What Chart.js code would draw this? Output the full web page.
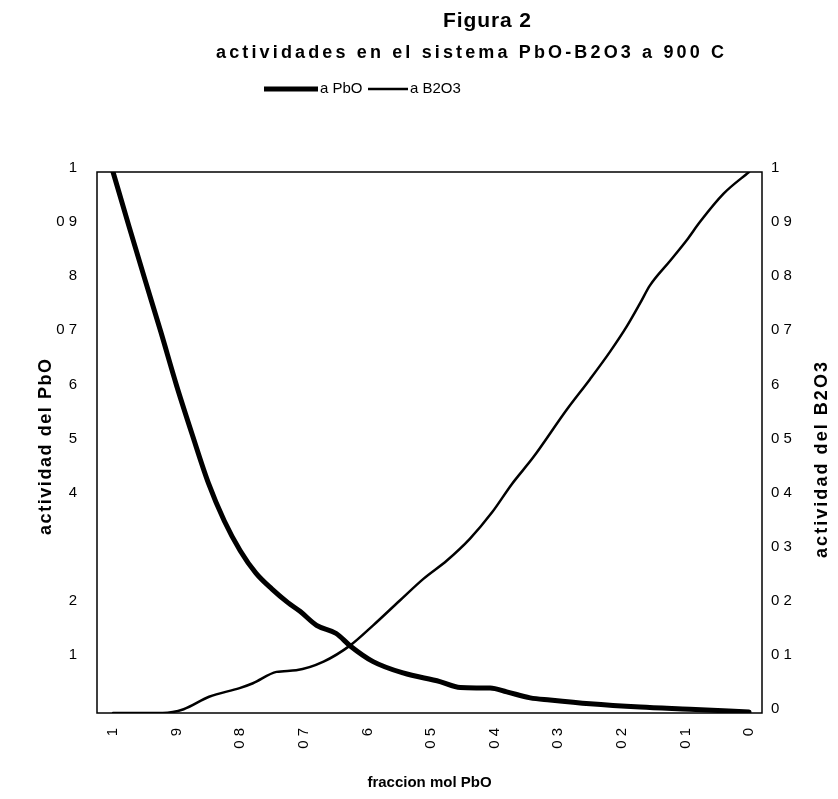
<!DOCTYPE html>
<html>
<head>
<meta charset="utf-8">
<script src="https://cdn.jsdelivr.net/npm/chart.js@4/dist/chart.umd.min.js"></script>
<style>
  html, body { margin: 0; padding: 0; background: #fff; }
  canvas { display: block; }
</style>
</head>
<body>
<canvas id="chart" width="838" height="799"></canvas>
<script>
// Activity of PbO vs. mole fraction of PbO
const molFracPbO_A = [1.0, 0.975, 0.95, 0.925, 0.9, 0.875, 0.85, 0.825, 0.8, 0.775, 0.75, 0.725, 0.706, 0.680, 0.649, 0.627, 0.591, 0.544, 0.486, 0.454, 0.407, 0.381, 0.344, 0.313, 0.250, 0.171, 0.093, 0.0];
const activityPbO   = [1.0, 0.900, 0.802, 0.705, 0.605, 0.513, 0.425, 0.355, 0.300, 0.258, 0.229, 0.204, 0.188, 0.162, 0.147, 0.124, 0.095, 0.074, 0.058, 0.047, 0.046, 0.039, 0.028, 0.024, 0.017, 0.011, 0.007, 0.002];

// Activity of B2O3 vs. mole fraction of PbO
const molFracPbO_B = [1.0, 0.922, 0.889, 0.849, 0.801, 0.780, 0.743, 0.712, 0.669, 0.627, 0.591, 0.549, 0.512, 0.475, 0.439, 0.404, 0.373, 0.339, 0.287, 0.250, 0.219, 0.192, 0.171, 0.156, 0.124, 0.098, 0.077, 0.040, 0.0];
const activityB2O3 = [0.0, 0.0, 0.007, 0.030, 0.046, 0.055, 0.076, 0.079, 0.095, 0.125, 0.162, 0.208, 0.248, 0.282, 0.322, 0.371, 0.423, 0.473, 0.560, 0.617, 0.667, 0.715, 0.758, 0.790, 0.836, 0.874, 0.908, 0.960, 1.0];

// Tick labels, listed from 1.0 down to 0.0
const xTickLabels     = ['1', '9', '0 8', '0 7', '6', '0 5', '0 4', '0 3', '0 2', '0 1', '0'];
const leftTickLabels  = ['1', '0 9', '8', '0 7', '6', '5', '4', '', '2', '1', ''];
const rightTickLabels = ['1', '0 9', '0 8', '0 7', '6', '0 5', '0 4', '0 3', '0 2', '0 1', '0'];

const seriesNames = ['a PbO', 'a B2O3'];
const titleText = 'Figura 2';
const subtitleText = 'actividades en el sistema PbO-B2O3 a 900 C';
const xAxisTitle = 'fraccion mol PbO';
const yAxisTitle = 'actividad del PbO';
const y1AxisTitle = 'actividad del B2O3';

const FONT = '"Liberation Sans", Arial, Helvetica, sans-serif';
Chart.defaults.font.family = FONT;
Chart.defaults.color = '#000';

const toPoints = (xs, ys) => xs.map((x, i) => ({ x, y: ys[i] }));
const labelAt = (arr, v) => arr[Math.round((1 - v) * 10)];
const tenthTicks = () => Array.from({ length: 11 }, (_, i) => ({ value: i / 10 }));

// draws text centred on (cx, cy), spread evenly to a given width
function spacedText(ctx, text, cx, cy, width) {
  const chars = [...text];
  const natural = chars.reduce((s, ch) => s + ctx.measureText(ch).width, 0);
  const gap = (width - natural) / (chars.length - 1);
  let x = cx - width / 2;
  ctx.textAlign = 'left';
  for (const ch of chars) {
    ctx.fillText(ch, x, cy);
    x += ctx.measureText(ch).width + gap;
  }
}

const decorations = {
  id: 'decorations',
  beforeDatasetsDraw(chart) {
    const { ctx, chartArea: a } = chart;
    ctx.save();
    ctx.strokeStyle = '#000';
    ctx.lineWidth = 1.5;
    ctx.strokeRect(a.left, a.top, a.right - a.left, a.bottom - a.top);
    ctx.restore();
  },
  afterDraw(chart) {
    const { ctx, chartArea: a } = chart;
    ctx.save();
    ctx.fillStyle = '#000';
    ctx.textBaseline = 'middle';

    // headings
    ctx.font = 'bold 21px ' + FONT;
    spacedText(ctx, titleText, 487, 21, 88);
    ctx.font = 'bold 18px ' + FONT;
    spacedText(ctx, subtitleText, 470, 53, 508);

    // legend
    ctx.font = '15px ' + FONT;
    const legendY = 89;
    const items = [
      { x0: 264, len: 54, ds: chart.data.datasets[0] },
      { x0: 368, len: 40, ds: chart.data.datasets[1] }
    ];
    for (const it of items) {
      ctx.strokeStyle = it.ds.borderColor;
      ctx.lineWidth = it.ds.borderWidth;
      ctx.beginPath();
      ctx.moveTo(it.x0, legendY);
      ctx.lineTo(it.x0 + it.len, legendY);
      ctx.stroke();
      ctx.textAlign = 'left';
      ctx.fillText(it.ds.label, it.x0 + it.len + 2, legendY);
    }

    // axis titles
    ctx.font = 'bold 15px ' + FONT;
    ctx.textAlign = 'center';
    ctx.fillText(xAxisTitle, (a.left + a.right) / 2, 783);

    ctx.font = 'bold 18px ' + FONT;
    ctx.save();
    ctx.translate(46, 447);
    ctx.rotate(-Math.PI / 2);
    spacedText(ctx, yAxisTitle, 0, 0, 176);
    ctx.restore();

    ctx.save();
    ctx.translate(822, 460);
    ctx.rotate(-Math.PI / 2);
    spacedText(ctx, y1AxisTitle, 0, 0, 196);
    ctx.restore();

    ctx.restore();
  }
};

new Chart(document.getElementById('chart'), {
  type: 'line',
  data: {
    datasets: [
      {
        label: seriesNames[0],
        data: toPoints(molFracPbO_A, activityPbO),
        yAxisID: 'y',
        borderColor: '#000',
        borderWidth: 5,
        pointRadius: 0,
        cubicInterpolationMode: 'monotone',
        borderCapStyle: 'round',
        borderJoinStyle: 'round'
      },
      {
        label: seriesNames[1],
        data: toPoints(molFracPbO_B, activityB2O3),
        yAxisID: 'y1',
        borderColor: '#000',
        borderWidth: 2.5,
        pointRadius: 0,
        cubicInterpolationMode: 'monotone',
        borderCapStyle: 'round',
        borderJoinStyle: 'round'
      }
    ]
  },
  options: {
    responsive: false,
    animation: false,
    layout: { padding: { top: 172, left: 0, right: 0, bottom: 0 } },
    plugins: {
      legend: { display: false },
      title: { display: false },
      tooltip: { enabled: false }
    },
    scales: {
      x: {
        type: 'linear',
        reverse: true,
        min: -0.0204,
        max: 1.0252,
        afterBuildTicks: s => { s.ticks = tenthTicks(); },
        afterFit: s => { s.height = 86; },
        grid: { display: false, drawTicks: false },
        border: { display: false },
        ticks: {
          autoSkip: false,
          minRotation: 90,
          maxRotation: 90,
          padding: 15,
          font: { size: 15 },
          callback: v => labelAt(xTickLabels, v)
        }
      },
      y: {
        position: 'left',
        min: 0,
        max: 1,
        afterBuildTicks: s => { s.ticks = tenthTicks(); },
        afterFit: s => { s.width = 97; },
        grid: { display: false, drawTicks: false },
        border: { display: false },
        ticks: {
          padding: 20,
          labelOffset: -4,
          font: { size: 15 },
          callback: v => labelAt(leftTickLabels, v)
        }
      },
      y1: {
        position: 'right',
        min: 0,
        max: 1,
        afterBuildTicks: s => { s.ticks = tenthTicks(); },
        afterFit: s => { s.width = 76; },
        grid: { display: false, drawTicks: false },
        border: { display: false },
        ticks: {
          padding: 9,
          labelOffset: -4,
          font: { size: 15 },
          callback: v => labelAt(rightTickLabels, v)
        }
      }
    }
  },
  plugins: [decorations]
});
</script>
</body>
</html>
